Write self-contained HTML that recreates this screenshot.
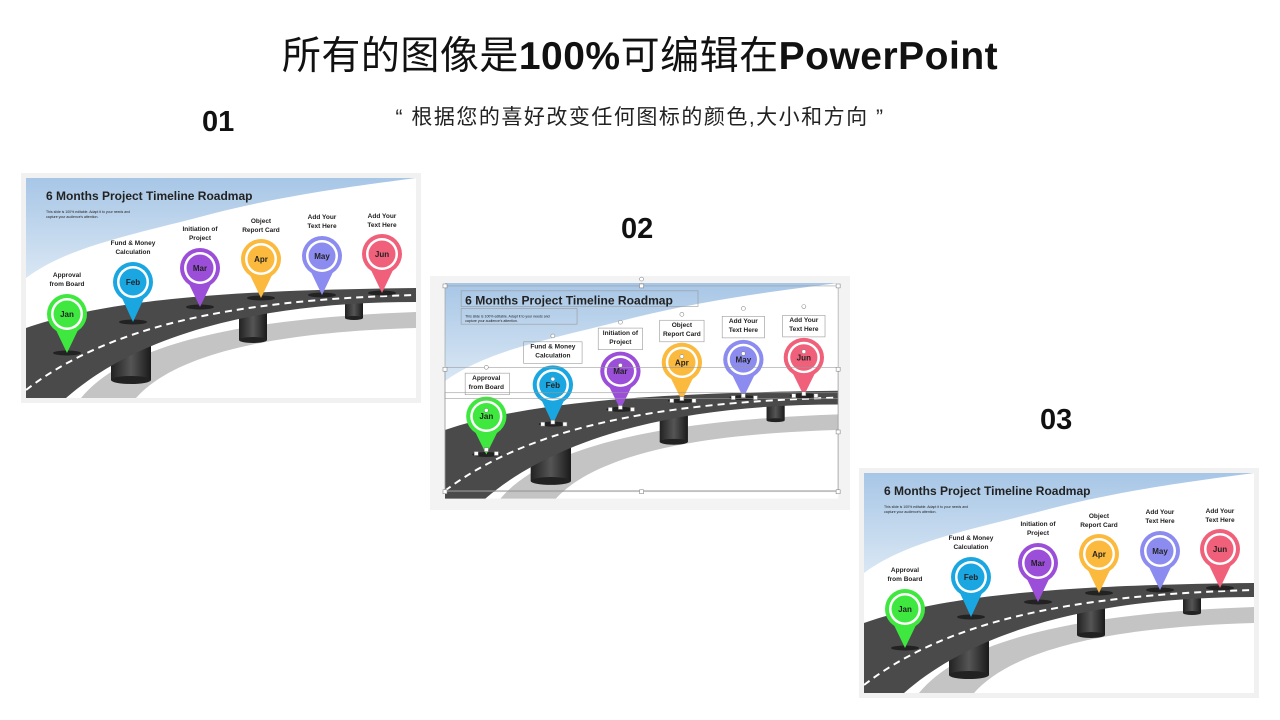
<!DOCTYPE html>
<html><head><meta charset="utf-8"><style>
body{margin:0;width:1280px;height:720px;background:#fff;overflow:hidden;position:relative;font-family:"Liberation Sans","Noto Sans CJK SC",sans-serif}
.t{position:absolute;left:0;width:1280px;text-align:center;top:25px;font-size:39px;color:#111;font-family:"Liberation Sans","Noto Sans CJK SC",sans-serif;letter-spacing:0.5px}
.t b{font-weight:bold}
.q{position:absolute;left:0;width:1280px;text-align:center;top:101px;font-size:21px;color:#222;letter-spacing:1.5px}
.n{position:absolute;font-size:29px;font-weight:bold;color:#111}
svg{position:absolute;left:0;top:0}
</style></head><body>
<div class="t">所有的图像是<b>100%</b>可编辑在<b>PowerPoint</b></div>
<div class="q">“ 根据您的喜好改变任何图标的颜色,大小和方向 ”</div>
<div class="n" style="left:202px;top:106px">01</div>
<div class="n" style="left:621px;top:213px">02</div>
<div class="n" style="left:1040px;top:404px">03</div>
<svg width="1280" height="720" viewBox="0 0 1280 720" font-family="Liberation Sans, sans-serif">
<defs>
<linearGradient id="sky" x1="0" y1="0" x2="0" y2="1"><stop offset="0" stop-color="#a7c6e6"/><stop offset="1" stop-color="#d9e7f4"/></linearGradient>
<linearGradient id="pil" x1="0" y1="0" x2="1" y2="0"><stop offset="0" stop-color="#222"/><stop offset=".5" stop-color="#555"/><stop offset="1" stop-color="#1a1a1a"/></linearGradient>
</defs>

<!-- SLIDE 1 -->
<rect x="21" y="173" width="400" height="230" fill="#f1f1f1"/>
<g transform="translate(26,178)">
<rect width="390" height="220" fill="#fff"/>
<path d="M0,0H390C330,8 250,18 170,40C100,58 40,70 0,100Z" fill="url(#sky)"/>
<path d="M55,220C100,165 220,140 390,134V150C250,154 150,175 110,220Z" fill="#c4c4c4"/>
<rect x="85" y="150" width="40" height="52" fill="url(#pil)"/><ellipse cx="105" cy="202" rx="20" ry="4" fill="#222"/>
<rect x="213" y="130" width="28" height="32" fill="url(#pil)"/><ellipse cx="227" cy="162" rx="14" ry="3" fill="#222"/>
<rect x="319" y="118" width="18" height="22" fill="url(#pil)"/><ellipse cx="328" cy="140" rx="9" ry="2" fill="#222"/>
<path d="M0,150C80,122 200,112 390,110V124C250,124 120,150 40,220H0Z" fill="#4a4a4a"/>
<path d="M0,212C80,150 200,122 390,117" fill="none" stroke="#fff" stroke-width="2" stroke-dasharray="7 5"/>
<g font-weight="bold" font-size="6.5" text-anchor="middle" fill="#222">
<text x="20" y="22" font-size="12" text-anchor="start">6 Months Project Timeline Roadmap</text>
<text x="20" y="35" font-size="3.5" font-weight="normal" text-anchor="start">This slide is 100% editable. Adapt it to your needs and</text>
<text x="20" y="40" font-size="3.5" font-weight="normal" text-anchor="start">capture your audience's attention.</text>
<g><ellipse cx="41" cy="175" rx="14" ry="2.5" fill="#222"/><path d="M29,150L41,175L53,150Z" fill="#3ee83e"/><circle cx="41" cy="136" r="20" fill="#3ee83e"/><circle cx="41" cy="136" r="16" fill="#fff"/><circle cx="41" cy="136" r="13.5" fill="#3ee83e"/><text x="41" y="139" font-size="8">Jan</text><text x="41" y="99">Approval</text><text x="41" y="108">from Board</text></g>
<g><ellipse cx="107" cy="144" rx="14" ry="2.5" fill="#222"/><path d="M95,118L107,144L119,118Z" fill="#1aa6e0"/><circle cx="107" cy="104" r="20" fill="#1aa6e0"/><circle cx="107" cy="104" r="16" fill="#fff"/><circle cx="107" cy="104" r="13.5" fill="#1aa6e0"/><text x="107" y="107" font-size="8">Feb</text><text x="107" y="67">Fund &amp; Money</text><text x="107" y="76">Calculation</text></g>
<g><ellipse cx="174" cy="129" rx="14" ry="2.5" fill="#222"/><path d="M162,104L174,129L186,104Z" fill="#9b4fd8"/><circle cx="174" cy="90" r="20" fill="#9b4fd8"/><circle cx="174" cy="90" r="16" fill="#fff"/><circle cx="174" cy="90" r="13.5" fill="#9b4fd8"/><text x="174" y="93" font-size="8">Mar</text><text x="174" y="53">Initiation of</text><text x="174" y="62">Project</text></g>
<g><ellipse cx="235" cy="120" rx="14" ry="2.5" fill="#222"/><path d="M223,95L235,120L247,95Z" fill="#fbb93e"/><circle cx="235" cy="81" r="20" fill="#fbb93e"/><circle cx="235" cy="81" r="16" fill="#fff"/><circle cx="235" cy="81" r="13.5" fill="#fbb93e"/><text x="235" y="84" font-size="8">Apr</text><text x="235" y="45">Object</text><text x="235" y="54">Report Card</text></g>
<g><ellipse cx="296" cy="117" rx="14" ry="2.5" fill="#222"/><path d="M284,92L296,117L308,92Z" fill="#8c8cf0"/><circle cx="296" cy="78" r="20" fill="#8c8cf0"/><circle cx="296" cy="78" r="16" fill="#fff"/><circle cx="296" cy="78" r="13.5" fill="#8c8cf0"/><text x="296" y="81" font-size="8">May</text><text x="296" y="41">Add Your</text><text x="296" y="50">Text Here</text></g>
<g><ellipse cx="356" cy="115" rx="14" ry="2.5" fill="#222"/><path d="M344,90L356,115L368,90Z" fill="#f0607a"/><circle cx="356" cy="76" r="20" fill="#f0607a"/><circle cx="356" cy="76" r="16" fill="#fff"/><circle cx="356" cy="76" r="13.5" fill="#f0607a"/><text x="356" y="79" font-size="8">Jun</text><text x="356" y="40">Add Your</text><text x="356" y="49">Text Here</text></g>
</g></g>

<!-- SLIDE 2 -->
<rect x="430" y="276" width="420" height="234" fill="#f3f3f3"/>
<g transform="translate(445,283) scale(1.008,0.98)">
<rect width="390" height="220" fill="#fff"/>
<path d="M0,0H390C330,8 250,18 170,40C100,58 40,70 0,100Z" fill="url(#sky)"/>
<path d="M55,220C100,165 220,140 390,134V150C250,154 150,175 110,220Z" fill="#c4c4c4"/>
<rect x="85" y="150" width="40" height="52" fill="url(#pil)"/><ellipse cx="105" cy="202" rx="20" ry="4" fill="#222"/>
<rect x="213" y="130" width="28" height="32" fill="url(#pil)"/><ellipse cx="227" cy="162" rx="14" ry="3" fill="#222"/>
<rect x="319" y="118" width="18" height="22" fill="url(#pil)"/><ellipse cx="328" cy="140" rx="9" ry="2" fill="#222"/>
<path d="M0,150C80,122 200,112 390,110V124C250,124 120,150 40,220H0Z" fill="#4a4a4a"/>
<path d="M0,212C80,150 200,122 390,117" fill="none" stroke="#fff" stroke-width="2" stroke-dasharray="7 5"/>
<g font-weight="bold" font-size="6.5" text-anchor="middle" fill="#222">
<text x="20" y="22" font-size="12" text-anchor="start">6 Months Project Timeline Roadmap</text>
<text x="20" y="35" font-size="3.5" font-weight="normal" text-anchor="start">This slide is 100% editable. Adapt it to your needs and</text>
<text x="20" y="40" font-size="3.5" font-weight="normal" text-anchor="start">capture your audience's attention.</text>
<g><ellipse cx="41" cy="175" rx="14" ry="2.5" fill="#222"/><path d="M29,150L41,175L53,150Z" fill="#3ee83e"/><circle cx="41" cy="136" r="20" fill="#3ee83e"/><circle cx="41" cy="136" r="16" fill="#fff"/><circle cx="41" cy="136" r="13.5" fill="#3ee83e"/><text x="41" y="139" font-size="8">Jan</text><text x="41" y="99">Approval</text><text x="41" y="108">from Board</text></g>
<g><ellipse cx="107" cy="144" rx="14" ry="2.5" fill="#222"/><path d="M95,118L107,144L119,118Z" fill="#1aa6e0"/><circle cx="107" cy="104" r="20" fill="#1aa6e0"/><circle cx="107" cy="104" r="16" fill="#fff"/><circle cx="107" cy="104" r="13.5" fill="#1aa6e0"/><text x="107" y="107" font-size="8">Feb</text><text x="107" y="67">Fund &amp; Money</text><text x="107" y="76">Calculation</text></g>
<g><ellipse cx="174" cy="129" rx="14" ry="2.5" fill="#222"/><path d="M162,104L174,129L186,104Z" fill="#9b4fd8"/><circle cx="174" cy="90" r="20" fill="#9b4fd8"/><circle cx="174" cy="90" r="16" fill="#fff"/><circle cx="174" cy="90" r="13.5" fill="#9b4fd8"/><text x="174" y="93" font-size="8">Mar</text><text x="174" y="53">Initiation of</text><text x="174" y="62">Project</text></g>
<g><ellipse cx="235" cy="120" rx="14" ry="2.5" fill="#222"/><path d="M223,95L235,120L247,95Z" fill="#fbb93e"/><circle cx="235" cy="81" r="20" fill="#fbb93e"/><circle cx="235" cy="81" r="16" fill="#fff"/><circle cx="235" cy="81" r="13.5" fill="#fbb93e"/><text x="235" y="84" font-size="8">Apr</text><text x="235" y="45">Object</text><text x="235" y="54">Report Card</text></g>
<g><ellipse cx="296" cy="117" rx="14" ry="2.5" fill="#222"/><path d="M284,92L296,117L308,92Z" fill="#8c8cf0"/><circle cx="296" cy="78" r="20" fill="#8c8cf0"/><circle cx="296" cy="78" r="16" fill="#fff"/><circle cx="296" cy="78" r="13.5" fill="#8c8cf0"/><text x="296" y="81" font-size="8">May</text><text x="296" y="41">Add Your</text><text x="296" y="50">Text Here</text></g>
<g><ellipse cx="356" cy="115" rx="14" ry="2.5" fill="#222"/><path d="M344,90L356,115L368,90Z" fill="#f0607a"/><circle cx="356" cy="76" r="20" fill="#f0607a"/><circle cx="356" cy="76" r="16" fill="#fff"/><circle cx="356" cy="76" r="13.5" fill="#f0607a"/><text x="356" y="79" font-size="8">Jun</text><text x="356" y="40">Add Your</text><text x="356" y="49">Text Here</text></g>
</g>
<g fill="none" stroke="#999" stroke-width="0.6">
<rect x="0" y="3" width="390" height="210"/>
<rect x="16" y="8" width="235" height="16"/><rect x="16" y="26" width="115" height="16"/>
<rect x="20" y="92" width="44" height="22"/><rect x="78" y="60" width="58" height="22"/><rect x="152" y="46" width="44" height="22"/>
<rect x="213" y="38" width="44" height="22"/><rect x="275" y="34" width="42" height="22"/><rect x="335" y="33" width="42" height="22"/>
<rect x="0" y="86" width="390" height="32"/><rect x="0" y="112" width="390" height="100"/>
</g>
<g fill="#fff" stroke="#777" stroke-width="0.5">
<rect x="-2" y="1" width="4" height="4"/><rect x="193" y="1" width="4" height="4"/><rect x="388" y="1" width="4" height="4"/>
<rect x="-2" y="211" width="4" height="4"/><rect x="193" y="211" width="4" height="4"/><rect x="388" y="211" width="4" height="4"/>
<rect x="-2" y="86" width="4" height="4"/><rect x="388" y="86" width="4" height="4"/><rect x="388" y="150" width="4" height="4"/>
<rect x="39" y="168" width="4" height="4"/><rect x="29" y="172" width="4" height="4"/><rect x="49" y="172" width="4" height="4"/>
<rect x="105" y="140" width="4" height="4"/><rect x="95" y="142" width="4" height="4"/><rect x="117" y="142" width="4" height="4"/>
<rect x="172" y="125" width="4" height="4"/><rect x="162" y="127" width="4" height="4"/><rect x="184" y="127" width="4" height="4"/>
<rect x="233" y="116" width="4" height="4"/><rect x="223" y="118" width="4" height="4"/><rect x="245" y="118" width="4" height="4"/>
<rect x="294" y="113" width="4" height="4"/><rect x="284" y="115" width="4" height="4"/><rect x="306" y="115" width="4" height="4"/>
<rect x="354" y="111" width="4" height="4"/><rect x="344" y="113" width="4" height="4"/><rect x="366" y="113" width="4" height="4"/>
<circle cx="41" cy="130" r="2"/><circle cx="107" cy="98" r="2"/><circle cx="174" cy="84" r="2"/><circle cx="235" cy="75" r="2"/><circle cx="296" cy="72" r="2"/><circle cx="356" cy="70" r="2"/>
<circle cx="195" cy="-4" r="2"/><circle cx="41" cy="86" r="2"/><circle cx="107" cy="54" r="2"/><circle cx="174" cy="40" r="2"/><circle cx="235" cy="32" r="2"/><circle cx="296" cy="26" r="2"/><circle cx="356" cy="24" r="2"/>
</g>
</g>

<!-- SLIDE 3 -->
<rect x="859" y="468" width="400" height="230" fill="#f1f1f1"/>
<g transform="translate(864,473)">
<rect width="390" height="220" fill="#fff"/>
<path d="M0,0H390C330,8 250,18 170,40C100,58 40,70 0,100Z" fill="url(#sky)"/>
<path d="M55,220C100,165 220,140 390,134V150C250,154 150,175 110,220Z" fill="#c4c4c4"/>
<rect x="85" y="150" width="40" height="52" fill="url(#pil)"/><ellipse cx="105" cy="202" rx="20" ry="4" fill="#222"/>
<rect x="213" y="130" width="28" height="32" fill="url(#pil)"/><ellipse cx="227" cy="162" rx="14" ry="3" fill="#222"/>
<rect x="319" y="118" width="18" height="22" fill="url(#pil)"/><ellipse cx="328" cy="140" rx="9" ry="2" fill="#222"/>
<path d="M0,150C80,122 200,112 390,110V124C250,124 120,150 40,220H0Z" fill="#4a4a4a"/>
<path d="M0,212C80,150 200,122 390,117" fill="none" stroke="#fff" stroke-width="2" stroke-dasharray="7 5"/>
<g font-weight="bold" font-size="6.5" text-anchor="middle" fill="#222">
<text x="20" y="22" font-size="12" text-anchor="start">6 Months Project Timeline Roadmap</text>
<text x="20" y="35" font-size="3.5" font-weight="normal" text-anchor="start">This slide is 100% editable. Adapt it to your needs and</text>
<text x="20" y="40" font-size="3.5" font-weight="normal" text-anchor="start">capture your audience's attention.</text>
<g><ellipse cx="41" cy="175" rx="14" ry="2.5" fill="#222"/><path d="M29,150L41,175L53,150Z" fill="#3ee83e"/><circle cx="41" cy="136" r="20" fill="#3ee83e"/><circle cx="41" cy="136" r="16" fill="#fff"/><circle cx="41" cy="136" r="13.5" fill="#3ee83e"/><text x="41" y="139" font-size="8">Jan</text><text x="41" y="99">Approval</text><text x="41" y="108">from Board</text></g>
<g><ellipse cx="107" cy="144" rx="14" ry="2.5" fill="#222"/><path d="M95,118L107,144L119,118Z" fill="#1aa6e0"/><circle cx="107" cy="104" r="20" fill="#1aa6e0"/><circle cx="107" cy="104" r="16" fill="#fff"/><circle cx="107" cy="104" r="13.5" fill="#1aa6e0"/><text x="107" y="107" font-size="8">Feb</text><text x="107" y="67">Fund &amp; Money</text><text x="107" y="76">Calculation</text></g>
<g><ellipse cx="174" cy="129" rx="14" ry="2.5" fill="#222"/><path d="M162,104L174,129L186,104Z" fill="#9b4fd8"/><circle cx="174" cy="90" r="20" fill="#9b4fd8"/><circle cx="174" cy="90" r="16" fill="#fff"/><circle cx="174" cy="90" r="13.5" fill="#9b4fd8"/><text x="174" y="93" font-size="8">Mar</text><text x="174" y="53">Initiation of</text><text x="174" y="62">Project</text></g>
<g><ellipse cx="235" cy="120" rx="14" ry="2.5" fill="#222"/><path d="M223,95L235,120L247,95Z" fill="#fbb93e"/><circle cx="235" cy="81" r="20" fill="#fbb93e"/><circle cx="235" cy="81" r="16" fill="#fff"/><circle cx="235" cy="81" r="13.5" fill="#fbb93e"/><text x="235" y="84" font-size="8">Apr</text><text x="235" y="45">Object</text><text x="235" y="54">Report Card</text></g>
<g><ellipse cx="296" cy="117" rx="14" ry="2.5" fill="#222"/><path d="M284,92L296,117L308,92Z" fill="#8c8cf0"/><circle cx="296" cy="78" r="20" fill="#8c8cf0"/><circle cx="296" cy="78" r="16" fill="#fff"/><circle cx="296" cy="78" r="13.5" fill="#8c8cf0"/><text x="296" y="81" font-size="8">May</text><text x="296" y="41">Add Your</text><text x="296" y="50">Text Here</text></g>
<g><ellipse cx="356" cy="115" rx="14" ry="2.5" fill="#222"/><path d="M344,90L356,115L368,90Z" fill="#f0607a"/><circle cx="356" cy="76" r="20" fill="#f0607a"/><circle cx="356" cy="76" r="16" fill="#fff"/><circle cx="356" cy="76" r="13.5" fill="#f0607a"/><text x="356" y="79" font-size="8">Jun</text><text x="356" y="40">Add Your</text><text x="356" y="49">Text Here</text></g>
</g></g>
</svg>
</body></html>
